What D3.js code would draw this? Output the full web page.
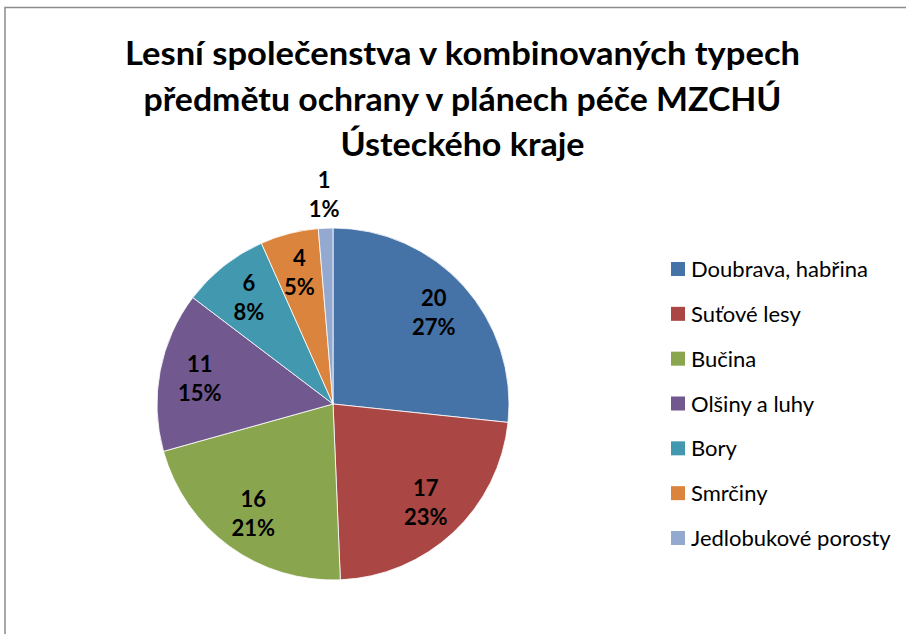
<!DOCTYPE html>
<html>
<head>
<meta charset="utf-8">
<script src="https://cdn.jsdelivr.net/npm/d3@7"></script>
<style>
  body { margin: 0; background: #fff; }
  svg { display: block; }
</style>
</head>
<body>
<div id="chart"></div>
<script>
// data
var categories = ["Doubrava, habřina", "Suťové lesy", "Bučina", "Olšiny a luhy", "Bory", "Smrčiny", "Jedlobukové porosty"];
var values = [20, 17, 16, 11, 6, 4, 1];
var colors = ["#4572A7", "#AA4643", "#89A54E", "#71588F", "#4198AF", "#DB843D", "#93A9CF"];
var titleLines = ["Lesní společenstva v kombinovaných typech", "předmětu ochrany v plánech péče MZCHÚ", "Ústeckého kraje"];
var titleWidths = [675, 638, 244];

var W = 906, H = 634;
var cx = 333, cy = 404, R = 176;
var font = "Lato, 'Open Sans', sans-serif";

var svg = d3.select("#chart").append("svg")
    .attr("width", W)
    .attr("height", H);

// frame
svg.append("rect")
    .attr("x", 5)
    .attr("y", 7.5)
    .attr("width", W + 20)
    .attr("height", H + 20)
    .attr("fill", "none")
    .attr("stroke", "#8c8c8c")
    .attr("stroke-width", 1.5);

// title
var title = svg.append("g").attr("font-family", font).attr("font-weight", "bold").attr("font-size", 32);
titleLines.forEach(function(t, i) {
    title.append("text")
        .attr("x", 462.5)
        .attr("y", 65 + i * 45.5)
        .attr("text-anchor", "middle")
        .attr("textLength", titleWidths[i])
        .attr("lengthAdjust", "spacingAndGlyphs")
        .attr("fill", "#000")
        .text(t);
});

var total = d3.sum(values);
var color = d3.scaleOrdinal().domain(categories).range(colors);

var pie = d3.pie().sort(null).value(function(d) { return d.value; });
var data = categories.map(function(c, i) { return {name: c, value: values[i]}; });
var arcs = pie(data);

var arc = d3.arc().innerRadius(0).outerRadius(R);
var labelArc = d3.arc().innerRadius(R * 0.77).outerRadius(R * 0.77);
var outArc = d3.arc().innerRadius(R * 1.19).outerRadius(R * 1.19);

var g = svg.append("g").attr("transform", "translate(" + cx + "," + cy + ")");

g.selectAll("path")
    .data(arcs)
    .enter().append("path")
    .attr("d", arc)
    .attr("fill", function(d) { return color(d.data.name); })
    .attr("stroke", "#fff")
    .attr("stroke-width", 0.8);

var labels = g.selectAll("g.lbl")
    .data(arcs)
    .enter().append("g")
    .attr("class", "lbl")
    .attr("transform", function(d) {
        var p = (d.data.value / total < 0.03) ? outArc.centroid(d) : labelArc.centroid(d);
        return "translate(" + p[0] + "," + p[1] + ")";
    })
    .attr("font-family", font)
    .attr("font-weight", "bold")
    .attr("font-size", 22)
    .attr("text-anchor", "middle")
    .attr("fill", "#000");

labels.append("text")
    .attr("y", -7)
    .text(function(d) { return d.data.value; });

labels.append("text")
    .attr("y", 22)
    .text(function(d) { return Math.round(d.data.value / total * 100) + "%"; });

// legend
var ly = d3.scalePoint().domain(categories).range([269, 538]);

var legend = svg.append("g")
    .attr("font-family", font)
    .attr("font-size", 22);

var item = legend.selectAll("g")
    .data(categories)
    .enter().append("g")
    .attr("transform", function(d) { return "translate(671," + ly(d) + ")"; });

item.append("rect")
    .attr("x", 0)
    .attr("y", -7)
    .attr("width", 14)
    .attr("height", 14)
    .attr("fill", function(d) { return color(d); });

item.append("text")
    .attr("x", 20)
    .attr("y", 8)
    .attr("fill", "#000")
    .text(function(d) { return d; });
</script>
</body>
</html>
